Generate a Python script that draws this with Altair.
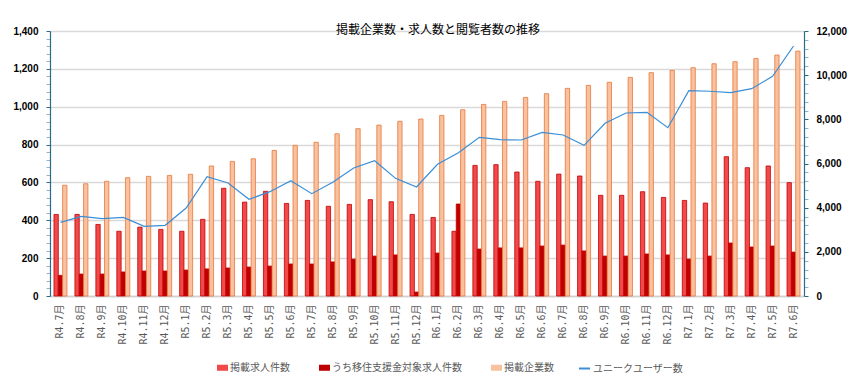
import altair as alt
import pandas as pd

months = ["R4.7月", "R4.8月", "R4.9月", "R4.10月", "R4.11月", "R4.12月",
          "R5.1月", "R5.2月", "R5.3月", "R5.4月", "R5.5月", "R5.6月",
          "R5.7月", "R5.8月", "R5.9月", "R5.10月", "R5.11月", "R5.12月",
          "R6.1月", "R6.2月", "R6.3月", "R6.4月", "R6.5月", "R6.6月",
          "R6.7月", "R6.8月", "R6.9月", "R6.10月", "R6.11月", "R6.12月",
          "R7.1月", "R7.2月", "R7.3月", "R7.4月", "R7.5月", "R7.6月"]

series_names = ["掲載求人件数", "うち移住支援金対象求人件数", "掲載企業数"]
line_name = "ユニークユーザー数"

jobs = [431, 431, 378, 342, 364, 352, 342, 405, 569, 496, 553, 489,
        505, 474, 484, 509, 498, 431, 415, 342, 690, 694, 655, 606,
        644, 634, 532, 532, 551, 521, 505, 491, 736, 678, 687, 599]
support_jobs = [109, 116, 116, 127, 132, 132, 137, 143, 148, 153, 158, 169,
                169, 180, 195, 211, 217, 21, 227, 486, 248, 254, 254, 264,
                269, 238, 211, 211, 222, 217, 195, 211, 280, 259, 264, 232]
companies = [585, 593, 606, 625, 632, 637, 643, 687, 711, 725, 769, 796,
             812, 857, 884, 903, 923, 935, 954, 984, 1012, 1028, 1049, 1069,
             1097, 1113, 1129, 1155, 1180, 1192, 1206, 1227, 1238, 1255, 1273, 1294]
users = [3336, 3607, 3502, 3562, 3155, 3200, 3985, 5404, 5117, 4377, 4724, 5223,
         4634, 5147, 5796, 6128, 5328, 4936, 5962, 6490, 7185, 7079, 7064, 7411,
         7290, 6822, 7819, 8287, 8317, 7622, 9298, 9271, 9207, 9388, 9947, 11320]

bar_rows = []
for s, vals in zip(series_names, [jobs, support_jobs, companies]):
    for m, v in zip(months, vals):
        bar_rows.append({"month": m, "series": s, "value": v})
bar_df = pd.DataFrame(bar_rows)
line_df = pd.DataFrame({"month": months, "users": users, "lname": [line_name] * len(months)})

JP = "Noto Sans CJK JP"
axis_dark = "#2B6A8A"
axis_light = "#8DB6CC"

x_enc = alt.X("month:N", sort=months,
              scale=alt.Scale(paddingInner=0.38, paddingOuter=0.19),
              axis=alt.Axis(title=None, labelAngle=270, ticks=False,
                            domainColor="#D0D0D0", domainWidth=1.5,
                            labelColor="#595959", labelFontSize=10,
                            labelFont="DejaVu Sans Mono, Noto Sans CJK JP",
                            labelPadding=8))

bars = alt.Chart(bar_df).mark_bar(strokeWidth=0.8).encode(
    x=x_enc,
    xOffset=alt.XOffset("series:N", sort=series_names,
                        scale=alt.Scale(paddingInner=0, paddingOuter=0)),
    y=alt.Y("value:Q",
            scale=alt.Scale(domain=[0, 1400], nice=False),
            axis=alt.Axis(title=None, values=list(range(0, 1401, 40)),
                          labelExpr="datum.value % 200 == 0 ? format(datum.value, ',') : ''",
                          labelFont="Liberation Sans", labelFontWeight="bold",
                          labelFontSize=10, labelColor="#000000", labelPadding=8,
                          tickSize=4,
                          tickColor={"condition": {"test": "datum.value % 200 == 0", "value": axis_dark}, "value": axis_light},
                          domainColor=axis_dark, domainWidth=1.2,
                          grid=True, gridColor="#D9D9D9", gridWidth=1.5,
                          gridOpacity={"condition": {"test": "datum.value % 200 == 0", "value": 1}, "value": 0})),
    fill=alt.Fill("series:N", sort=series_names,
                  scale=alt.Scale(domain=series_names, range=["#F24A4A", "#C00000", "#F8C1A0"]),
                  legend=alt.Legend(title=None, orient="none", direction="horizontal",
                                    legendX=167, legendY=331, padding=0,
                                    symbolType="M-1,-0.55H1V0.55H-1Z", symbolSize=121,
                                    symbolStrokeWidth=0,
                                    labelFont=JP, labelFontSize=10, labelColor="#595959",
                                    columnPadding=29, labelOffset=2)),
    stroke=alt.condition("datum.series == '掲載企業数'", alt.value("#E8773A"), alt.value("#C00000")),
)

line = alt.Chart(line_df).mark_line(strokeWidth=1.2).encode(
    x=alt.X("month:N", sort=months),
    y=alt.Y("users:Q",
            scale=alt.Scale(domain=[0, 12000], nice=False),
            axis=alt.Axis(title=None, orient="right", values=list(range(0, 12001, 400)),
                          labelExpr="datum.value % 2000 == 0 ? format(datum.value, ',') : ''",
                          labelFont="Liberation Sans", labelFontWeight="bold",
                          labelFontSize=10, labelColor="#000000", labelPadding=8,
                          tickSize=4,
                          tickColor={"condition": {"test": "datum.value % 2000 == 0", "value": axis_dark}, "value": axis_light},
                          domainColor=axis_dark, domainWidth=1.2, grid=False)),
    stroke=alt.Stroke("lname:N",
                      scale=alt.Scale(domain=[line_name], range=["#3A8ED6"]),
                      legend=alt.Legend(title=None, orient="none", direction="horizontal",
                                        legendX=528, legendY=331, padding=0,
                                        symbolType="stroke",
                                        symbolSize=121, symbolStrokeWidth=2,
                                        labelFont=JP, labelFontSize=10, labelColor="#595959",
                                        labelOffset=2)),
)

chart = alt.layer(bars, line).resolve_scale(y="independent").properties(
    width=754, height=265,
    padding={"left": 4, "top": 16, "right": 5, "bottom": 5},
    title=alt.Title("掲載企業数・求人数と閲覧者数の推移", font=JP, fontSize=12,
                    fontWeight="normal", color="#000000", offset=-11, anchor="middle", dx=11),
).configure_view(strokeWidth=0)

chart.save("out.html", embed_options={"renderer": "svg", "actions": False})
